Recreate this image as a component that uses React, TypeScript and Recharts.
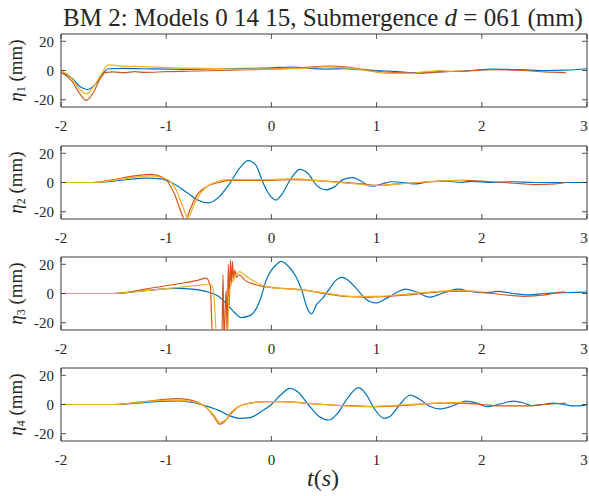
import React from 'react';
import { LineChart, Line, XAxis, YAxis, ReferenceArea } from 'recharts';

type Pt = [number, number];

// eta_1
const p1Blue: Pt[] = [[-2,-1.5],[-1.9,-5],[-1.82,-11],[-1.75,-13],[-1.68,-10],[-1.6,-2],[-1.55,1.2],[-1.4,1.5],[-1.2,1.2],[-1,1],[-0.8,0.8],[-0.5,1.2],[-0.2,1.5],[0,1.8],[0.2,2.4],[0.35,1.5],[0.5,1],[0.7,1.2],[0.85,0.5],[1,0],[1.2,-0.8],[1.35,-1.5],[1.6,-1],[1.9,0],[2.1,1],[2.4,0.5],[2.6,0],[2.8,0.2],[3,1.2]];
const p1Red: Pt[] = [[-2,-1],[-1.9,-7],[-1.82,-16],[-1.76,-20.5],[-1.7,-16],[-1.63,-6],[-1.58,-1.5],[-1.5,-1],[-1.4,-1.5],[-1.3,-0.8],[-1.2,-1.3],[-1,-0.8],[-0.8,-0.5],[-0.5,0],[-0.2,0.5],[0,1],[0.3,2],[0.55,3],[0.7,2.5],[0.85,1],[1,-0.5],[1.2,-1.5],[1.4,-2],[1.6,-1],[1.8,-0.5],[2.1,0.5],[2.4,0],[2.6,-1],[2.8,-1.5]];
const p1Yellow: Pt[] = [[-2,0],[-1.9,-5],[-1.82,-13],[-1.76,-16],[-1.7,-12],[-1.62,-3],[-1.55,3.8],[-1.45,3.2],[-1.2,2.6],[-1,2],[-0.6,1.5],[-0.3,1],[0,1],[0.3,1.5],[0.5,2.5],[0.7,2],[0.9,0],[1.1,-2],[1.3,-2],[1.45,-1],[1.6,0],[1.7,-0.5],[1.82,0]];

// eta_2
const p2Blue: Pt[] = [[-2,0],[-1.7,0],[-1.5,1],[-1.2,3],[-1.05,2.5],[-0.95,0],[-0.8,-7],[-0.7,-12],[-0.6,-14],[-0.5,-10],[-0.4,-1],[-0.3,10],[-0.22,15],[-0.15,12],[-0.08,0],[-0.04,-6],[0,-10],[0.04,-12],[0.1,-8],[0.18,2],[0.27,9],[0.35,6],[0.43,-2],[0.52,-5],[0.6,-3],[0.68,2],[0.77,3.3],[0.85,1],[0.92,-2],[0.97,-2.5],[1.05,-1],[1.15,0.5],[1.25,0],[1.35,-1],[1.5,0.5],[1.65,1],[1.8,0],[1.9,0.8],[2.1,0],[2.3,0.5],[2.5,0],[2.8,0],[3,0]];
const p2Red: Pt[] = [[-2,0],[-1.7,0],[-1.5,2],[-1.3,4.5],[-1.15,5.5],[-1.05,4],[-0.98,0],[-0.92,-8],[-0.87,-18],[-0.82,-26],[-0.77,-18],[-0.72,-10],[-0.62,-3],[-0.5,0],[-0.4,1.5],[-0.2,1.5],[0,1.5],[0.2,2],[0.5,1],[0.8,-0.5],[1,-2],[1.2,-1],[1.4,0],[1.6,1],[1.8,1.5],[2,1],[2.2,0],[2.4,-1],[2.5,-1.5],[2.7,-1],[2.8,0]];
const p2Yellow: Pt[] = [[-2,0],[-1.7,0],[-1.5,1.5],[-1.3,3.5],[-1.15,4.5],[-1.02,3],[-0.95,0],[-0.9,-6],[-0.84,-17],[-0.79,-24],[-0.74,-16],[-0.68,-8],[-0.6,-2],[-0.52,0.5],[-0.42,2],[-0.2,2],[0,2],[0.2,2.5],[0.5,1],[0.8,-1],[1,-2],[1.2,-1],[1.4,0],[1.6,1],[1.85,1.5]];

// eta_3
const p3Blue: Pt[] = [[-2,0],[-1.5,0],[-1.2,2],[-0.9,3.5],[-0.75,3],[-0.6,1],[-0.5,-2],[-0.43,-7],[-0.35,-13],[-0.29,-16.5],[-0.2,-15],[-0.11,-5],[-0.05,9],[0.05,20],[0.09,22],[0.17,18],[0.23,12],[0.29,2],[0.34,-10],[0.38,-14],[0.43,-7.5],[0.49,-3],[0.55,3],[0.6,8],[0.67,11],[0.73,9],[0.8,4],[0.9,-4],[0.99,-6.5],[1.1,-3],[1.2,1],[1.27,3],[1.38,1],[1.5,-2.5],[1.62,0],[1.7,2],[1.78,3],[1.88,1.5],[2,0.5],[2.1,1],[2.15,1.5],[2.3,0],[2.45,-1],[2.6,0],[2.8,0.5],[3,1]];
const p3Red: Pt[] = [[-2,0],[-1.5,0],[-1.2,3],[-0.9,6.5],[-0.7,9],[-0.62,10.5],[-0.58,5],[-0.56,-30],[-0.47,-30],[-0.46,13],[-0.45,-30],[-0.43,2],[-0.42,-30],[-0.41,20],[-0.4,-8],[-0.39,23],[-0.38,6],[-0.37,22],[-0.36,9],[-0.35,16],[-0.33,11],[-0.31,13],[-0.25,9],[-0.15,6],[-0.05,4.5],[0.1,3.5],[0.3,2.5],[0.5,0],[0.7,-2],[0.9,-2.5],[1.1,-2],[1.3,-1],[1.5,0.5],[1.7,1.5],[1.9,1.5],[2.1,0],[2.3,-1.5],[2.4,-2],[2.6,-1],[2.75,1],[2.8,1]];
const p3Yellow: Pt[] = [[-2,0],[-1.5,0],[-1.2,2],[-0.9,4],[-0.7,5.5],[-0.58,6.5],[-0.55,2],[-0.52,-30],[-0.42,-30],[-0.4,2],[-0.36,10],[-0.3,15],[-0.26,13],[-0.2,10],[-0.1,6],[0,4],[0.2,3],[0.4,1.5],[0.55,0],[0.75,-2],[1,-2],[1.2,-1],[1.5,1],[1.8,2],[2,1]];

// eta_4
const p4Blue: Pt[] = [[-2,0],[-1.5,0],[-1.2,1.5],[-0.9,2.5],[-0.75,1.5],[-0.6,-1.5],[-0.5,-4],[-0.42,-7],[-0.3,-9.5],[-0.2,-9],[-0.1,-5],[0,0],[0.08,6],[0.18,11],[0.26,8],[0.35,0],[0.45,-8],[0.55,-10.6],[0.63,-6],[0.72,4],[0.83,11.5],[0.9,7],[0.98,-3],[1.07,-9.5],[1.13,-8],[1.22,0],[1.32,6.5],[1.4,4],[1.5,-1],[1.6,-3],[1.72,-1],[1.85,2.3],[1.95,1],[2.05,-1.5],[2.18,0.5],[2.3,2.3],[2.4,1],[2.48,-0.8],[2.58,0],[2.68,1],[2.78,0],[2.88,-1],[2.95,-0.8],[3,0]];
const p4Red: Pt[] = [[-2,0],[-1.5,0],[-1.2,2],[-0.9,4],[-0.8,3.5],[-0.7,1.5],[-0.62,-2],[-0.55,-8],[-0.49,-13.5],[-0.45,-12],[-0.38,-6],[-0.3,-1],[-0.2,1],[-0.05,2],[0.1,2],[0.3,1],[0.5,0],[0.8,-1],[1,-1.5],[1.2,-1],[1.4,0],[1.6,1],[1.8,1],[2,0],[2.2,-1],[2.4,-1],[2.6,0],[2.8,1]];
const p4Yellow: Pt[] = [[-2,0],[-1.5,0],[-1.2,2],[-0.9,3],[-0.8,2.5],[-0.7,1],[-0.62,-2],[-0.55,-7],[-0.49,-12],[-0.44,-11],[-0.38,-5],[-0.3,-1],[-0.2,1],[-0.05,2],[0.1,2],[0.3,1],[0.6,-0.5],[0.9,-1.5],[1.1,-1],[1.3,0],[1.6,1],[1.85,1.5]];

const xTicks = [-2, -1, 0, 1, 2, 3];
const yTicks = [-20, 0, 20];
const colors = ['#0072BD', '#D95319', '#EDB120'];

const panels = [
  { idx: 1, top: 34, series: [p1Blue, p1Red, p1Yellow] },
  { idx: 2, top: 146, series: [p2Blue, p2Red, p2Yellow] },
  { idx: 3, top: 257, series: [p3Blue, p3Red, p3Yellow] },
  { idx: 4, top: 368, series: [p4Blue, p4Red, p4Yellow] },
];

const FONT = "'Liberation Serif'";
const INK = '#262626';
const PLOT_W = 526;
const PLOT_H = 73;
const PAD_TOP = 2;
const X_AXIS_H = 38;
const TM_X = 13;
const TM_Y = 7;
const TICK = 5;

const txt = { fontFamily: FONT, fill: INK };

function XTick(props: any) {
  const { x, y, payload } = props;
  const bottom = y - TM_X;
  const top = bottom - PLOT_H;
  // keep the last label inside the page
  const lx = payload.value === 3 ? x - 3 : x;
  return (
    <g>
      <line x1={x} y1={bottom} x2={x} y2={bottom - TICK} stroke={INK} strokeWidth={0.8} />
      <line x1={x} y1={top} x2={x} y2={top + TICK} stroke={INK} strokeWidth={0.8} />
      <text x={lx} y={y} dy="0.71em" textAnchor="middle" style={{ ...txt, fontSize: 15 }}>
        {payload.value}
      </text>
    </g>
  );
}

function YTick(props: any) {
  const { x, y, payload } = props;
  const left = x + TM_Y;
  const right = left + PLOT_W;
  return (
    <g>
      <line x1={left} y1={y} x2={left + TICK} y2={y} stroke={INK} strokeWidth={0.8} />
      <line x1={right} y1={y} x2={right - TICK} y2={y} stroke={INK} strokeWidth={0.8} />
      <text x={x} y={y} dy="0.35em" textAnchor="end" style={{ ...txt, fontSize: 15 }}>
        {payload.value}
      </text>
    </g>
  );
}

function YLabel(props: any) {
  const { idx } = props;
  const cx = 22;
  const cy = PAD_TOP + PLOT_H / 2;
  return (
    <text
      x={cx}
      y={cy}
      transform={`rotate(-90 ${cx} ${cy})`}
      textAnchor="middle"
      style={{ ...txt, fontSize: 19 }}
    >
      <tspan fontStyle="italic">η</tspan>
      <tspan fontSize={12} dy={3}>{idx}</tspan>
      <tspan dy={-3}> (mm)</tspan>
    </text>
  );
}

function Panel({ idx, series }: { idx: number; series: Pt[][] }) {
  return (
    <LineChart
      width={589}
      height={PAD_TOP + PLOT_H + X_AXIS_H}
      margin={{ top: PAD_TOP, right: 2, bottom: 0, left: 0 }}
    >
      <XAxis
        type="number"
        dataKey="t"
        domain={[-2, 3]}
        ticks={xTicks}
        allowDataOverflow
        axisLine={false}
        tickLine={false}
        tickSize={0}
        tickMargin={TM_X}
        height={X_AXIS_H}
        tick={<XTick />}
        interval={0}
      />
      <YAxis
        type="number"
        dataKey="v"
        domain={[-25, 25]}
        ticks={yTicks}
        allowDataOverflow
        axisLine={false}
        tickLine={false}
        tickSize={0}
        tickMargin={TM_Y}
        width={61}
        tick={<YTick />}
        interval={0}
        label={<YLabel idx={idx} />}
      />
      <ReferenceArea x1={-2} x2={3} y1={-25} y2={25} fill="none" stroke={INK} strokeWidth={0.9} />
      {series.map((s, i) => (
        <Line
          key={i}
          data={s.map(([t, v]) => ({ t, v }))}
          dataKey="v"
          type="monotone"
          stroke={colors[i]}
          strokeWidth={1.2}
          dot={false}
          activeDot={false}
          isAnimationActive={false}
        />
      ))}
    </LineChart>
  );
}

export default function App() {
  return (
    <div style={{ position: 'absolute', left: 0, top: 0, width: 589, height: 496, background: '#fff' }}>
      <svg width={589} height={496} style={{ position: 'absolute', left: 0, top: 0 }}>
        <text x={323} y={26} textAnchor="middle" style={{ ...txt, fontSize: 25 }}>
          BM 2:  Models 0 14 15, Submergence <tspan fontStyle="italic">d</tspan> = 061 (mm)
        </text>
        <text x={323} y={486} textAnchor="middle" style={{ ...txt, fontSize: 24 }}>
          <tspan fontStyle="italic">t</tspan>(<tspan fontStyle="italic">s</tspan>)
        </text>
      </svg>
      {panels.map((p) => (
        <div key={p.idx} style={{ position: 'absolute', left: 0, top: p.top - PAD_TOP }}>
          <Panel idx={p.idx} series={p.series} />
        </div>
      ))}
    </div>
  );
}
